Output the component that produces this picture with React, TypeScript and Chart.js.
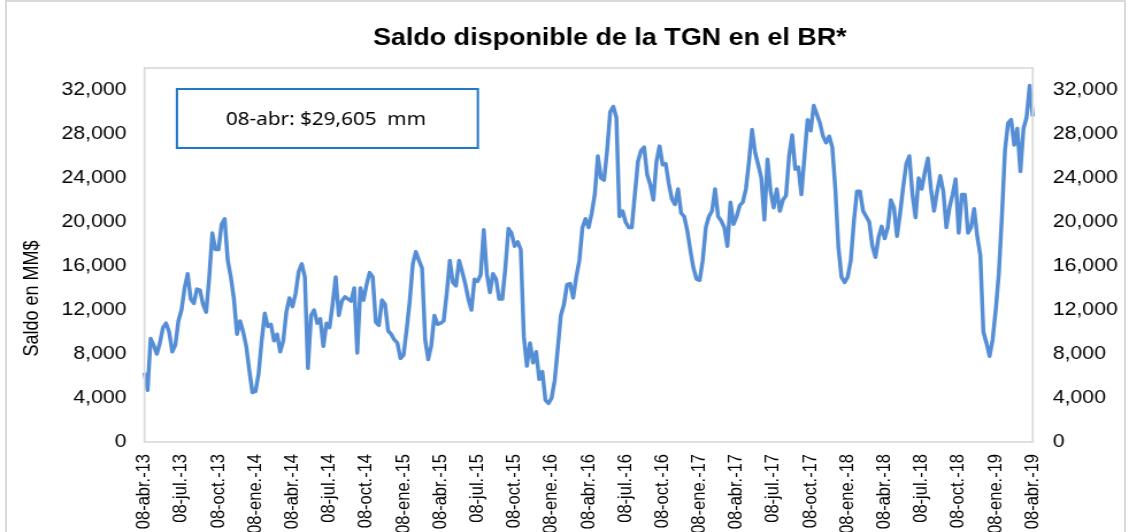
import React, { useEffect, useRef } from 'react';
import { Chart, registerables } from 'chart.js';

Chart.register(...registerables);

// ---------- DATA ----------
const chartTitle = 'Saldo disponible de la TGN en el BR*';
const yAxisTitle = 'Saldo en MM$';
const annotationText = '08-abr: $29,605  mm';

const quarterLabels = [
  '08-abr.-13', '08-jul.-13', '08-oct.-13', '08-ene.-14',
  '08-abr.-14', '08-jul.-14', '08-oct.-14', '08-ene.-15',
  '08-abr.-15', '08-jul.-15', '08-oct.-15', '08-ene.-16',
  '08-abr.-16', '08-jul.-16', '08-oct.-16', '08-ene.-17',
  '08-abr.-17', '08-jul.-17', '08-oct.-17', '08-ene.-18',
  '08-abr.-18', '08-jul.-18', '08-oct.-18', '08-ene.-19',
  '08-abr.-19',
];

const yTickValues = [0, 4000, 8000, 12000, 16000, 20000, 24000, 28000, 32000];
const pointsPerQuarter = 12;

// Saldo (MM$), abr-13 -> abr-14
const saldo2013 = [
  6300, 4700, 9400, 8800, 8000, 9000, 10400, 10800, 10000, 8200, 8800, 11000,
  12000, 14000, 15300, 13000, 12600, 13900, 13800, 12500, 11800, 15000, 19000, 17500,
  17500, 19800, 20300, 16500, 15000, 13000, 9800, 11000, 10000, 8700, 6500, 4500,
  4600, 6200, 9200, 11700, 10500, 10700, 9200, 9800, 8200, 9200, 11800, 13100,
];
// abr-14 -> abr-15
const saldo2014 = [
  12300, 13500, 15500, 16200, 15000, 6700, 11500, 12000, 10800, 11200, 8700, 10800,
  10400, 12500, 15000, 11500, 12800, 13200, 13000, 12800, 14000, 8100, 14000, 12900,
  14300, 15400, 15000, 10900, 10600, 12900, 12500, 10100, 9800, 9300, 9000, 7600,
  7900, 10200, 12800, 16200, 17300, 16500, 15800, 9300, 7500, 8800, 11500, 10700,
];
// abr-15 -> abr-16
const saldo2015 = [
  10800, 11000, 13500, 16500, 14500, 14200, 16500, 15500, 14400, 13000, 12000, 14800,
  14600, 15200, 19300, 15300, 13600, 15300, 14800, 13000, 13000, 15800, 19400, 19000,
  17800, 18200, 17500, 9600, 6900, 9000, 7200, 8200, 5700, 6400, 3800, 3500,
  4000, 5600, 8500, 11500, 12500, 14300, 14400, 13100, 15000, 16500, 19500, 20300,
];
// abr-16 -> abr-17
const saldo2016 = [
  19500, 20800, 22500, 26000, 24000, 23800, 26500, 30000, 30500, 29500, 20500, 21000,
  20000, 19500, 19500, 22500, 25500, 26500, 26800, 24300, 23400, 22000, 25500, 26900,
  25200, 25300, 23500, 22100, 21600, 23000, 20800, 20500, 19200, 17400, 15800, 14800,
  14700, 16500, 19500, 20500, 21000, 23000, 20500, 20100, 19500, 17800, 21800, 19800,
];
// abr-17 -> abr-18
const saldo2017 = [
  20500, 21500, 21800, 23000, 25500, 28400, 26300, 25200, 24000, 20200, 25700, 22800,
  21300, 23000, 21000, 22000, 22400, 26000, 27900, 24800, 25000, 22500, 26000, 29300,
  28300, 30600, 29800, 29000, 27800, 27200, 27800, 26800, 23000, 17700, 15000, 14500,
  15000, 16500, 20000, 22800, 22800, 21000, 20500, 20000, 17800, 16800, 18600, 19600,
];
// abr-18 -> abr-19
const saldo2018 = [
  18500, 19500, 22000, 21300, 18700, 20800, 23200, 25300, 26000, 22500, 20400, 24000,
  23000, 24500, 25800, 23000, 21000, 22800, 24200, 22800, 19500, 21300, 22500, 23900,
  19000, 22500, 22500, 19000, 19500, 21200, 18700, 17000, 10000, 9000, 7800, 9300,
  12000, 15300, 20500, 26500, 29000, 29300, 27000, 28500, 24600, 28500, 29500, 32400,
  29605,
];

const saldo = [...saldo2013, ...saldo2014, ...saldo2015, ...saldo2016, ...saldo2017, ...saldo2018];
const labels = saldo.map((_, i) =>
  i % pointsPerQuarter === 0 ? quarterLabels[i / pointsPerQuarter] : ''
);

// ---------- LAYOUT ----------
const PAGE_W = 1129;
const PAGE_H = 532;
const STRETCH = 1.15; // horizontal stretch of the original picture
const CW = Math.round(PAGE_W / STRETCH);
const cx = (p: number) => p / STRETCH;

const FONT = '"Liberation Sans", Arial, Helvetica, sans-serif';

const fmt = (v: any) => Number(v).toLocaleString('en-US');
const setTicks = (s: any) => {
  s.ticks = yTickValues.map((value) => ({ value }));
};

const decorPlugin = {
  id: 'decor',
  beforeDraw(chart: any) {
    const { ctx, width, height } = chart;
    ctx.save();
    ctx.fillStyle = '#ffffff';
    ctx.fillRect(0, 0, width, height);
    ctx.restore();
  },
  afterDraw(chart: any) {
    const { ctx, chartArea: a } = chart;
    ctx.save();
    // plot frame
    ctx.strokeStyle = '#d9d9d9';
    ctx.lineWidth = 1.6;
    ctx.strokeRect(a.left, a.top, a.right - a.left, a.bottom - a.top);

    // title
    ctx.fillStyle = '#000000';
    ctx.font = `bold 23.4px ${FONT}`;
    ctx.textAlign = 'center';
    ctx.textBaseline = 'alphabetic';
    ctx.fillText(chartTitle, cx(610), 45);

    // y axis title
    ctx.save();
    ctx.translate(cx(38.5), 298.5);
    ctx.rotate(-Math.PI / 2);
    ctx.font = `18px ${FONT}`;
    ctx.textAlign = 'center';
    ctx.textBaseline = 'alphabetic';
    ctx.fillText(yAxisTitle, 0, 0);
    ctx.restore();

    // annotation box
    const bx = cx(177), by = 89, bw = cx(478) - cx(177), bh = 59;
    ctx.fillStyle = '#ffffff';
    ctx.fillRect(bx, by, bw, bh);
    ctx.strokeStyle = '#1f78c8';
    ctx.lineWidth = 2;
    ctx.strokeRect(bx, by, bw, bh);
    ctx.fillStyle = '#000000';
    ctx.font = `18px "Noto Sans", ${FONT}`;
    ctx.textAlign = 'center';
    ctx.textBaseline = 'alphabetic';
    ctx.fillText(annotationText, cx(326), 125);
    ctx.restore();
  },
};

export default function App() {
  const canvasRef = useRef<HTMLCanvasElement | null>(null);

  useEffect(() => {
    const canvas = canvasRef.current;
    if (!canvas) return;
    const chart = new Chart(canvas, {
      type: 'line',
      data: {
        labels,
        datasets: [
          {
            label: 'Saldo',
            data: saldo,
            borderColor: '#558ed5',
            backgroundColor: '#558ed5',
            borderWidth: 3.5,
            pointRadius: 0,
            pointHoverRadius: 0,
            tension: 0,
            fill: false,
            borderJoinStyle: 'round',
            yAxisID: 'y',
          },
        ],
      },
      options: {
        responsive: false,
        maintainAspectRatio: false,
        animation: false,
        devicePixelRatio: 1,
        layout: { padding: { top: 68, left: 0, right: 0, bottom: 0 } },
        plugins: {
          legend: { display: false },
          title: { display: false },
          tooltip: { enabled: false },
        },
        scales: {
          x: {
            type: 'category',
            grid: { display: false, drawTicks: false },
            border: { display: false },
            ticks: {
              autoSkip: false,
              maxRotation: 90,
              minRotation: 90,
              padding: 12,
              color: '#000000',
              font: { family: FONT, size: 16.5 },
            },
            afterFit: (s: any) => {
              s.height = PAGE_H - 442;
            },
          },
          y: {
            position: 'left',
            min: 0,
            max: 34000,
            grid: { display: false, drawTicks: false },
            border: { display: false },
            afterBuildTicks: setTicks,
            ticks: {
              padding: cx(145) - cx(127),
              color: '#000000',
              font: { family: FONT, size: 18.5 },
              callback: fmt,
            },
            afterFit: (s: any) => {
              s.width = cx(144.5);
            },
          },
          y2: {
            position: 'right',
            min: 0,
            max: 34000,
            grid: { display: false, drawTicks: false },
            border: { display: false },
            afterBuildTicks: setTicks,
            ticks: {
              padding: cx(1053) - cx(1033),
              color: '#000000',
              font: { family: FONT, size: 18.5 },
              callback: fmt,
            },
            afterFit: (s: any) => {
              s.width = CW - cx(1033);
            },
          },
        },
      },
      plugins: [decorPlugin],
    });
    return () => {
      chart.destroy();
    };
  }, []);

  return (
    <div style={{ position: 'absolute', left: 0, top: 0, width: PAGE_W, height: PAGE_H, overflow: 'hidden', background: '#ffffff' }}>
      <canvas
        ref={canvasRef}
        width={CW}
        height={PAGE_H}
        style={{ width: `${PAGE_W}px`, height: `${PAGE_H}px`, display: 'block' }}
      />
      <div
        style={{
          position: 'absolute',
          left: 5,
          top: 0,
          width: PAGE_W - 8,
          height: PAGE_H + 10,
          border: '2px solid #d9d9d9',
          boxSizing: 'border-box',
          pointerEvents: 'none',
        }}
      />
    </div>
  );
}
